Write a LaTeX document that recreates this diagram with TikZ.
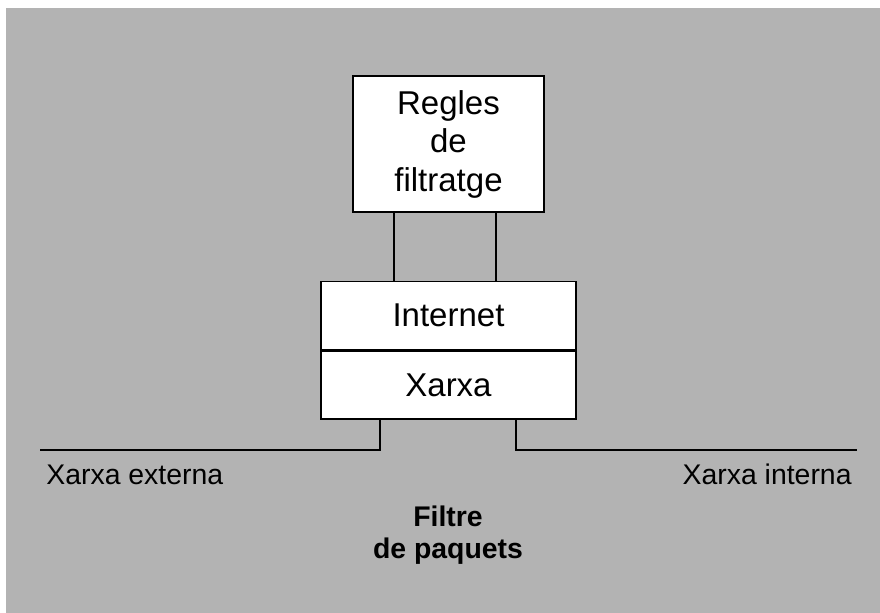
\documentclass[tikz,border=0pt]{standalone}
\usepackage{fontspec}
\setmainfont{Liberation Sans}
\usetikzlibrary{positioning}
\definecolor{fons}{RGB}{179,179,179}

\begin{document}
\begin{tikzpicture}[x=0.5pt, y=-0.5pt, node distance=34pt, font=\fontsize{14.2}{17}\selectfont,
        capa/.style={rectangle, draw, fill=white, line width=0.8pt, minimum width=127.5pt, minimum height=34pt, inner sep=0pt, font=\fontsize{16.5}{19.25}\selectfont},
        fil/.style={line width=0.6pt},
        rotul/.style={inner sep=0pt}]
        \useasboundingbox (0,0) rectangle (880,613);
        \fill[fons] (6,8) rectangle (880,613);

        \node[capa, minimum width=95.5pt, minimum height=68pt, align=center] (regles) at (448.5,144) {Regles\\de\\filtratge};
        \node[capa] (internet) [below=of regles] {Internet};
        \node[capa] (xarxa) [below=0pt of internet] {Xarxa};

        \coordinate (extern) at (40,450);
        \coordinate (intern) at (857,450);

        \draw[fil] ([xshift=-27.25pt]regles.south) -- ([xshift=-27.25pt]internet.north);
        \draw[fil] ([xshift=23.75pt]regles.south) -- ([xshift=23.75pt]internet.north);
        \draw[fil] ([xshift=-34.25pt]xarxa.south) |- (extern);
        \draw[fil] ([xshift=33.75pt]xarxa.south) |- (intern);

        \node[rotul, anchor=base west] (externa) at (46,485) {Xarxa externa};
        \node[rotul, anchor=base east] (interna) at (852,485) {Xarxa interna};
        \node[rotul, align=center, font=\fontsize{14.2}{16}\bfseries] (filtre) at (448,535) {Filtre\\de paquets};
    \end{tikzpicture}
\end{document}
